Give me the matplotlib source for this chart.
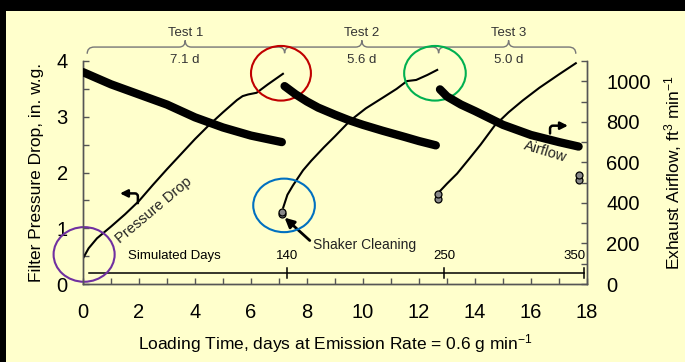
import matplotlib
matplotlib.use('Agg')
import matplotlib.pyplot as plt
from matplotlib.patches import Ellipse, Rectangle, PathPatch
from matplotlib.path import Path
from matplotlib import font_manager

# ---------------- data ----------------
# Filter pressure drop (in. w.g.) vs loading time (days)
t1_dp_days = [0, 0.2, 0.5, 1.0, 1.5, 2.0, 2.5, 3.0, 3.5, 4.0, 4.5, 5.0, 5.5, 5.7, 5.9, 6.2, 6.6, 7.14]
t1_dp = [0.46, 0.64, 0.82, 1.03, 1.25, 1.49, 1.78, 2.06, 2.33, 2.6, 2.85, 3.08, 3.3, 3.37, 3.40, 3.43, 3.58, 3.77]
t2_dp_days = [7.15, 7.3, 7.5, 7.86, 8.15, 8.6, 9.0, 9.54, 10.1, 10.7, 11.2, 11.57, 11.9, 12.3, 12.65]
t2_dp = [1.37, 1.6, 1.77, 2.04, 2.21, 2.45, 2.65, 2.93, 3.15, 3.34, 3.5, 3.64, 3.66, 3.75, 3.84]
t3_dp_days = [12.7, 13.0, 13.36, 13.8, 14.2, 14.7, 15.2, 15.7, 16.3, 17.0, 17.6]
t3_dp = [1.64, 1.8, 1.98, 2.25, 2.5, 2.84, 3.08, 3.29, 3.52, 3.76, 3.96]

# Exhaust airflow (ft3/min) vs loading time (days)
t1_af_days = [0, 0.5, 1, 2, 3, 4, 5, 6, 7.1]
t1_af = [1045, 1015, 985, 935, 885, 822, 772, 732, 700]
t2_af_days = [7.2, 7.6, 8.0, 8.4, 9.0, 9.5, 10.0, 10.7, 11.5, 12.0, 12.6]
t2_af = [976, 935, 900, 870, 835, 808, 785, 756, 725, 705, 684]
t3_af_days = [12.75, 13.0, 13.5, 14.0, 15.0, 16.0, 17.0, 17.7]
t3_af = [960, 925, 885, 853, 785, 735, 700, 678]

# pressure readings right after shaker cleaning
clean_days = [7.1, 7.1, 12.68, 12.68, 17.7, 17.7]
clean_dp = [1.25, 1.29, 1.52, 1.62, 1.86, 1.96]

# simulated-days scale
sim_labels = ['140', '250', '350']
sim_pos = [7.3, 12.9, 17.9]
sim_line = [0.2, 17.9]
sim_y = 0.2

# tests brace
tests = ['Test 1', 'Test 2', 'Test 3']
test_centers = [3.65, 9.96, 15.2]
test_durations = ['7.1 d', '5.6 d', '5.0 d']
test_dividers = [7.2, 12.7]
brace_span = [0.15, 17.6]

xticks = list(range(0, 19, 2))
yticks_left = [0, 1, 2, 3, 4]
yticks_right = [0, 200, 400, 600, 800, 1000]

# ---------------- fonts ----------------
names = {f.name for f in font_manager.fontManager.ttflist}
narrow = 'Liberation Sans Narrow' in names
main_font = 'Liberation Sans'
narrow_font = 'Liberation Sans Narrow' if narrow else 'Liberation Sans'
narrow_size = 11 if narrow else 9.5

plt.rcParams['font.family'] = [main_font, 'DejaVu Sans']
plt.rcParams['mathtext.fontset'] = 'custom'
plt.rcParams['mathtext.rm'] = main_font
plt.rcParams['mathtext.it'] = main_font + ':italic'

BG = '#FFFFCC'
AX = '#555555'

fig = plt.figure(figsize=(6.85, 3.62), dpi=100, facecolor='black')
fig.patches.append(Rectangle((6 / 685, 0), 1, (362 - 11) / 362, transform=fig.transFigure,
                             facecolor=BG, edgecolor='none', zorder=-10))

L, R, B, T = 83 / 685, 587 / 685, (362 - 284) / 362, (362 - 61) / 362
ax = fig.add_axes([L, B, R - L, T - B])
ax.set_facecolor('none')
ax2 = ax.twinx()
ax2.set_facecolor('none')

# pressure drop curves (left axis)
for d, v in [(t1_dp_days, t1_dp), (t2_dp_days, t2_dp), (t3_dp_days, t3_dp)]:
    ax.plot(d, v, color='black', lw=1.5, zorder=3)
ax.plot(clean_days, clean_dp, 'o', ms=5, mfc='#888888', mec='black', mew=0.9, zorder=4)

# airflow bands (right axis)
for d, v in [(t1_af_days, t1_af), (t2_af_days, t2_af), (t3_af_days, t3_af)]:
    ax2.plot(d, v, color='black', lw=6, solid_capstyle='round', solid_joinstyle='round', zorder=3)

ax.set_xlim(0, 18)
ax.set_ylim(0, 4)
ax2.set_ylim(0, 1100)

ax.set_xticks(xticks)
ax.set_xticks(range(0, 19), minor=True)
ax.set_yticks(yticks_left)
ax.set_yticks([i * 0.5 for i in range(9)], minor=True)
ax2.set_yticks(yticks_right)
ax2.set_yticks(range(0, 1101, 100), minor=True)

for a in (ax, ax2):
    a.spines['top'].set_visible(False)
    for s in a.spines.values():
        s.set_color(AX)
        s.set_linewidth(1.0)
    a.tick_params(which='both', direction='in', length=4, color=AX, width=1, labelsize=14.5)
ax.tick_params(axis='x', pad=14)
ax.tick_params(axis='y', pad=11)
ax2.tick_params(axis='y', pad=14)

ax.set_xlabel('Loading Time, days at Emission Rate = 0.6 g min$^{-1}$', fontsize=12.5, labelpad=7)
ax.set_ylabel('Filter Pressure Drop, in. w.g.', fontsize=12.5, labelpad=9)
ax2.set_ylabel('Exhaust Airflow, ft$^3$ min$^{-1}$', fontsize=12.5, labelpad=8)

# simulated days scale
ax.plot(sim_line, [sim_y, sim_y], color='black', lw=1.1, zorder=3)
for p, lab in zip(sim_pos, sim_labels):
    ax.plot([p, p], [sim_y - 0.09, sim_y + 0.09], color='black', lw=1.1)
    ha = 'right' if p > 17 else 'center'
    ax.text(p if p < 17 else p + 0.05, 0.5, lab, ha=ha, va='center', fontsize=9.5)
ax.text(3.25, 0.5, 'Simulated Days', ha='center', va='center', fontsize=9.5)

# brace
yb, yend, yup, ydn = 4.25, 4.13, 4.37, 4.14
feat = sorted([(c, yup) for c in test_centers] + [(c, ydn) for c in test_dividers])
x0, x1 = brace_span
verts = [(x0, yend), (x0, yb), (x0 + 0.25, yb)]
codes = [Path.MOVETO, Path.CURVE3, Path.CURVE3]
w = 0.22
for c, tip in feat:
    verts += [(c - w, yb), (c, yb), (c, tip), (c, yb), (c + w, yb)]
    codes += [Path.LINETO, Path.CURVE3, Path.CURVE3, Path.CURVE3, Path.CURVE3]
verts += [(x1 - 0.25, yb), (x1, yb), (x1, yend)]
codes += [Path.LINETO, Path.CURVE3, Path.CURVE3]
ax.add_patch(PathPatch(Path(verts, codes), facecolor='none', edgecolor='#777777', lw=1.0, clip_on=False))
for c, t, dlab in zip(test_centers, tests, test_durations):
    ax.text(c, 4.5, t, ha='center', va='center', fontsize=narrow_size, color='#333333',
            family=narrow_font, clip_on=False)
    ax.text(c, 4.02, dlab, ha='center', va='center', fontsize=narrow_size, color='#333333',
            family=narrow_font, clip_on=False)

# highlight circles
circles = [((0.04, 0.53), 2.18, 0.98, '#7030A0'),
           ((7.07, 3.78), 2.14, 0.98, '#C00000'),
           ((12.57, 3.78), 2.2, 0.98, '#00B050'),
           ((7.18, 1.41), 2.2, 0.96, '#0070C0')]
for cxy, ew, eh, col in circles:
    ax.add_patch(Ellipse(cxy, ew, eh, facecolor='none', edgecolor=col, lw=1.5, clip_on=False, zorder=5))

# annotations
ax.text(2.54, 1.32, 'Pressure Drop', rotation=40, ha='center', va='center', fontsize=10.5,
        rotation_mode='anchor', color='#222222')
ax.text(16.5, 2.38, 'Airflow', rotation=-17, ha='center', va='center', fontsize=10.5,
        rotation_mode='anchor', color='#222222')
ax.text(8.21, 0.70, 'Shaker Cleaning', ha='left', va='center', fontsize=10, color='#222222')
ax.annotate('', xy=(7.2, 1.19), xytext=(8.1, 0.78),
            arrowprops=dict(arrowstyle='-|>', lw=2, color='black', mutation_scale=14,
                            shrinkA=0, shrinkB=0))
ax.annotate('', xy=(1.32, 1.625), xytext=(1.96, 1.45),
            arrowprops=dict(arrowstyle='-|>', lw=1.8, color='black', mutation_scale=11,
                            shrinkA=0, shrinkB=0,
                            connectionstyle='angle,angleA=90,angleB=0,rad=3'))
ax.annotate('', xy=(17.32, 2.84), xytext=(16.68, 2.70),
            arrowprops=dict(arrowstyle='-|>', lw=1.8, color='black', mutation_scale=11,
                            shrinkA=0, shrinkB=0,
                            connectionstyle='angle,angleA=90,angleB=0,rad=3'))

fig.savefig('out.png', dpi=100, facecolor=fig.get_facecolor())
